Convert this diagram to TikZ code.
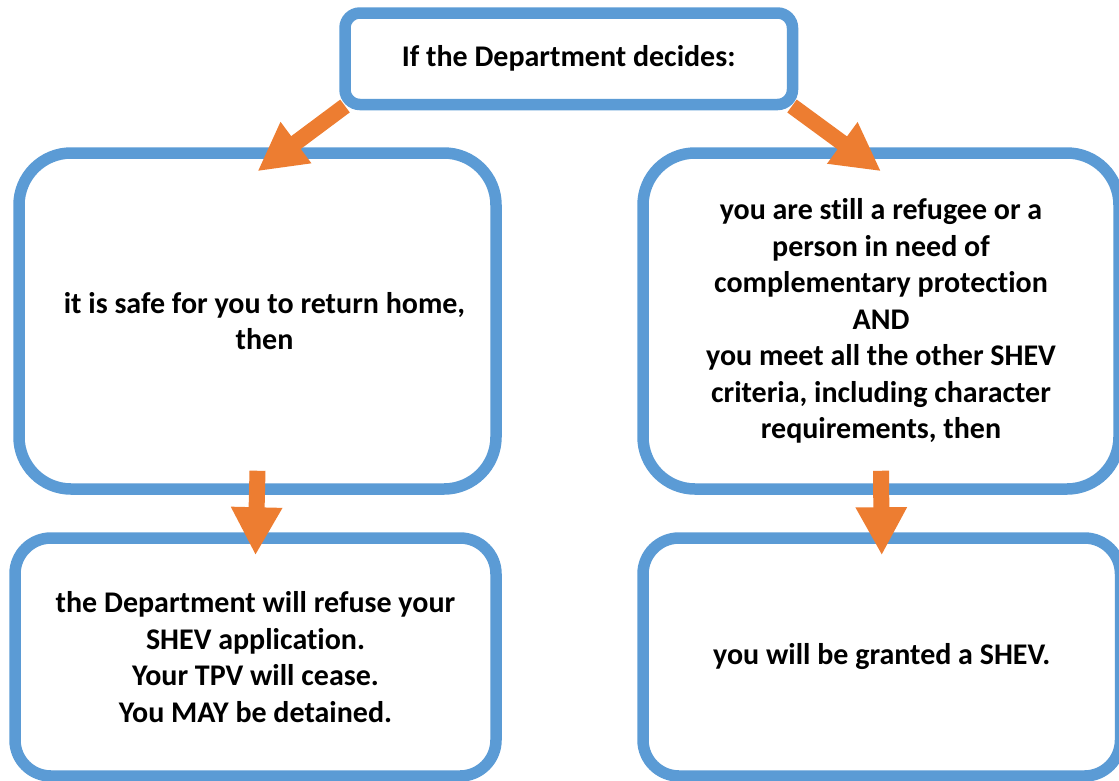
\documentclass[tikz,border=0pt]{standalone}
\usepackage{fontspec}
\setmainfont{Carlito}[Ligatures=NoCommon]
\usetikzlibrary{arrows.meta,calc}
\definecolor{boxblue}{HTML}{5B9BD5}
\definecolor{arrorange}{HTML}{ED7D31}
\begin{document}
\begin{tikzpicture}[x=1pt,y=-1pt,
  box/.style={draw=boxblue,line width=11.5pt,fill=white,inner sep=0pt,align=center,
    font=\fontsize{30}{36.5}\selectfont\bfseries},
  bigarrow/.style={draw=arrorange,line width=16pt,
    -{Triangle[length=48pt,width=48pt]},arrorange}]
\useasboundingbox (0,0) rectangle (1119,780);
\node[box,rounded corners=52pt,minimum width=477pt,minimum height=336pt] (left) at (257.5,321)
  {\hspace*{14pt}it is safe for you to return home,\\\hspace*{14pt}then};
\node[box,rounded corners=52pt,minimum width=476pt,minimum height=336pt] (right) at (881,321)
  {you are still a refugee or a\\person in need of\\complementary protection\\AND\\you meet all the other SHEV\\criteria, including character\\requirements, then};
\node[box,rounded corners=36pt,minimum width=481pt,minimum height=238pt] (bl) at (255.5,657)
  {the Department will refuse your\\SHEV application.\\Your TPV will cease.\\You MAY be detained.};
\node[box,rounded corners=36pt,minimum width=477.5pt,minimum height=238pt] (br) at (881.75,657)
  {you will be granted a SHEV.};
\draw[bigarrow] (345,106) -- ($(left.north)+(0,24)$);
\draw[bigarrow] (792,106) -- ($(right.north)+(0,24)$);
\node[box,rounded corners=15pt,minimum width=447.5pt,minimum height=91.5pt] (top) at (568.75,58.75)
  {If the Department decides:};
\draw[bigarrow] ($(left.south)+(0,-24)$) -- ($(bl.north)+(0,23)$);
\draw[bigarrow] ($(right.south)+(0,-24)$) -- ($(br.north)+(0,23)$);
\end{tikzpicture}
\end{document}
